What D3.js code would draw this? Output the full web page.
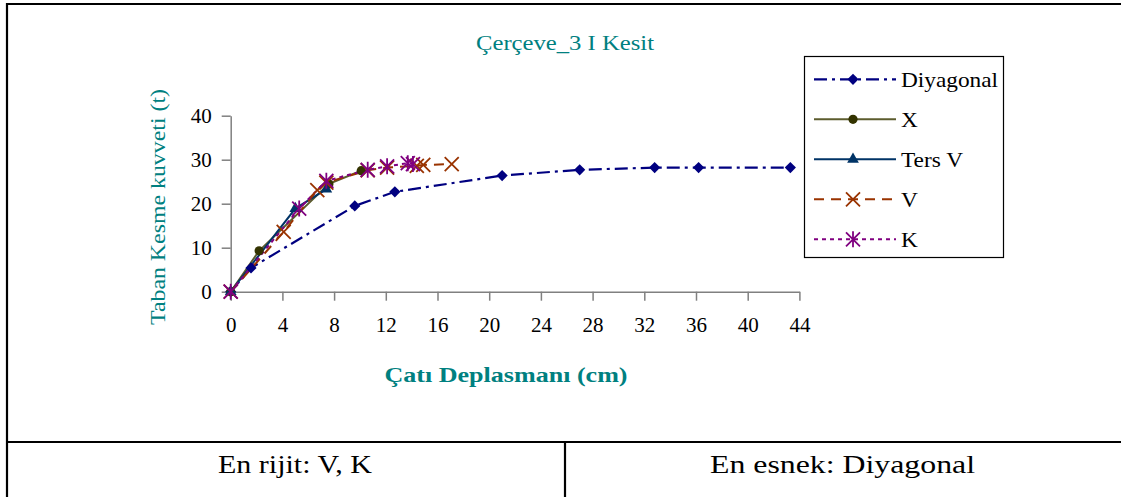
<!DOCTYPE html>
<html>
<head>
<meta charset="utf-8">
<script src="https://cdn.jsdelivr.net/npm/d3@7"></script>
<style>
  html, body { margin: 0; padding: 0; background: #fff; }
  svg { display: block; font-family: "Liberation Serif", "Times New Roman", serif; }
</style>
</head>
<body>
<svg id="chart" width="1121" height="497"></svg>
<script>
// Taban kesme kuvveti (t) – çatı deplasmanı (cm) eğrileri, çerçeve tiplerine göre
const seriesNames = ["Diyagonal", "X", "Ters V", "V", "K"];

const diyagonalDisp  = [0, 1.57, 9.6, 12.7, 21.0, 27.0, 32.8, 36.2, 43.3];
const diyagonalShear = [0, 5.4, 19.5, 22.7, 26.4, 27.7, 28.2, 28.2, 28.2];

const xDisp  = [0, 2.2, 7.6, 10.1];
const xShear = [0, 9.3, 24.5, 27.5];

const tersVDisp  = [0, 5.0, 7.4];
const tersVShear = [0, 18.9, 23.3];

const vDisp  = [0, 4.1, 6.7, 7.4, 10.6, 12.1, 14.4, 14.9, 17.1];
const vShear = [0, 13.6, 23.1, 24.8, 27.6, 28.2, 28.6, 28.8, 29.0];

const kDisp  = [0, 5.3, 7.4, 10.6, 12.1, 13.7, 14.1];
const kShear = [0, 18.9, 25.2, 27.7, 28.5, 29.2, 29.0];

const xTicks = [0, 4, 8, 12, 16, 20, 24, 28, 32, 36, 40, 44];
const yTicks = [0, 10, 20, 30, 40];

const chartTitle = "Çerçeve_3 I Kesit";
const xTitle = "Çatı Deplasmanı (cm)";
const yTitle = "Taban Kesme kuvveti (t)";
const noteLeft = "En rijit: V, K";
const noteRight = "En esnek: Diyagonal";

const styles = {
  "Diyagonal": { color: "#000080", dash: "13,5,3,5", marker: "diamond", width: 2.2 },
  "X":         { color: "#333300", lineColor: "#5c5c2e", dash: null, marker: "circle", width: 2 },
  "Ters V":    { color: "#003366", dash: null, marker: "triangle", width: 2 },
  "V":         { color: "#993300", dash: "10,7", marker: "cross", width: 2 },
  "K":         { color: "#800080", dash: "4,4", marker: "star", width: 2 }
};

const seriesData = [
  { name: "Diyagonal", xs: diyagonalDisp, ys: diyagonalShear },
  { name: "X", xs: xDisp, ys: xShear },
  { name: "Ters V", xs: tersVDisp, ys: tersVShear },
  { name: "V", xs: vDisp, ys: vShear },
  { name: "K", xs: kDisp, ys: kShear }
].map(s => ({ name: s.name, pts: s.xs.map((x, i) => ({ x, y: s.ys[i] })) }));

const svg = d3.select("#chart");
const teal = "#008080";

// widen a text element horizontally (the serif face is set slightly wide)
function widen(sel, target) {
  sel.each(function () {
    const w = this.getComputedTextLength();
    const len = typeof target === "number" && target > 3 ? target : w * (target || 1.12);
    d3.select(this).attr("textLength", len).attr("lengthAdjust", "spacingAndGlyphs");
  });
  return sel;
}

// outer table frame
const frame = svg.append("g").attr("stroke", "#000").attr("stroke-width", 2.2);
frame.append("line").attr("x1", 6).attr("x2", 1121).attr("y1", 4).attr("y2", 4);
frame.append("line").attr("x1", 7).attr("x2", 7).attr("y1", 3).attr("y2", 497);
frame.append("line").attr("x1", 6).attr("x2", 1121).attr("y1", 442).attr("y2", 442);
frame.append("line").attr("x1", 565).attr("x2", 565).attr("y1", 442).attr("y2", 497);

// scales
const x = d3.scaleLinear().domain([0, 44]).range([230.7, 799.4]);
const y = d3.scaleLinear().domain([0, 40]).range([291.7, 115.7]);

// title
widen(svg.append("text").attr("x", 565).attr("y", 50).attr("text-anchor", "middle")
  .attr("fill", teal).attr("font-size", 21).text(chartTitle), 178);

// axes
const xAxis = svg.append("g").attr("transform", `translate(0,${y(0)})`)
  .call(d3.axisBottom(x).tickValues(xTicks).tickSize(9).tickSizeOuter(0).tickPadding(16));
const yAxis = svg.append("g").attr("transform", `translate(${x(0)},0)`)
  .call(d3.axisLeft(y).tickValues(yTicks).tickSize(9).tickSizeOuter(0).tickPadding(10));
[xAxis, yAxis].forEach(a => {
  a.select(".domain").attr("stroke", "#808080").attr("stroke-width", 1.5);
  a.selectAll(".tick line").attr("stroke", "#808080").attr("stroke-width", 1.5);
  a.selectAll(".tick text").attr("fill", "#000").attr("font-size", 21)
    .attr("font-family", "Liberation Serif, serif");
});

// axis titles
widen(svg.append("text").attr("x", 506).attr("y", 382).attr("text-anchor", "middle")
  .attr("fill", teal).attr("font-size", 21).attr("font-weight", "bold").text(xTitle), 243);
widen(svg.append("text").attr("transform", "translate(165,207) rotate(-90)")
  .attr("text-anchor", "middle").attr("fill", teal).attr("font-size", 21).text(yTitle), 236);

// marker shapes
function drawMarker(g, type, cx, cy, color) {
  if (type === "diamond") {
    const r = 5.6;
    g.append("path").attr("d", `M${cx},${cy - r}L${cx + r},${cy}L${cx},${cy + r}L${cx - r},${cy}Z`)
      .attr("fill", color);
  } else if (type === "circle") {
    g.append("circle").attr("cx", cx).attr("cy", cy).attr("r", 4.6).attr("fill", color);
  } else if (type === "triangle") {
    g.append("path").attr("d", d3.symbol(d3.symbolTriangle, 60)()).attr("transform", `translate(${cx},${cy})`)
      .attr("fill", color);
  } else if (type === "cross") {
    const r = 7;
    g.append("path").attr("d", `M${cx - r},${cy - r}L${cx + r},${cy + r}M${cx - r},${cy + r}L${cx + r},${cy - r}`)
      .attr("stroke", color).attr("stroke-width", 1.8).attr("fill", "none");
  } else if (type === "star") {
    const r = 7;
    g.append("path").attr("d", `M${cx - r},${cy - r}L${cx + r},${cy + r}M${cx - r},${cy + r}L${cx + r},${cy - r}M${cx},${cy - r - 1}L${cx},${cy + r + 1}`)
      .attr("stroke", color).attr("stroke-width", 1.8).attr("fill", "none");
  }
}

const line = d3.line().x(d => x(d.x)).y(d => y(d.y));

// series lines and markers
const plot = svg.append("g");
seriesData.forEach(s => {
  const st = styles[s.name];
  plot.append("path").datum(s.pts).attr("d", line)
    .attr("fill", "none").attr("stroke", st.lineColor || st.color)
    .attr("stroke-width", st.width).attr("stroke-dasharray", st.dash);
});
seriesData.forEach(s => {
  const st = styles[s.name];
  const g = plot.append("g");
  s.pts.forEach(p => drawMarker(g, st.marker, x(p.x), y(p.y), st.color));
});

// legend
const legend = svg.append("g");
legend.append("rect").attr("x", 804.5).attr("y", 56.5).attr("width", 199).attr("height", 201)
  .attr("fill", "#fff").attr("stroke", "#000").attr("stroke-width", 1.2);
seriesNames.forEach((name, i) => {
  const st = styles[name];
  const ly = 79.3 + i * 40;
  legend.append("line").attr("x1", 814).attr("x2", 896).attr("y1", ly).attr("y2", ly)
    .attr("stroke", st.lineColor || st.color).attr("stroke-width", st.width)
    .attr("stroke-dasharray", st.dash);
  drawMarker(legend, st.marker, 853, ly, st.color);
  widen(legend.append("text").attr("x", 901).attr("y", ly).attr("dy", "0.35em")
    .attr("font-size", 21).attr("fill", "#000").text(name), 1.11);
});

// notes row
widen(svg.append("text").attr("x", 295).attr("y", 473).attr("text-anchor", "middle")
  .attr("font-size", 25).attr("fill", "#000").text(noteLeft), 154);
widen(svg.append("text").attr("x", 842.5).attr("y", 473).attr("text-anchor", "middle")
  .attr("font-size", 25).attr("fill", "#000").text(noteRight), 265);
</script>
</body>
</html>
